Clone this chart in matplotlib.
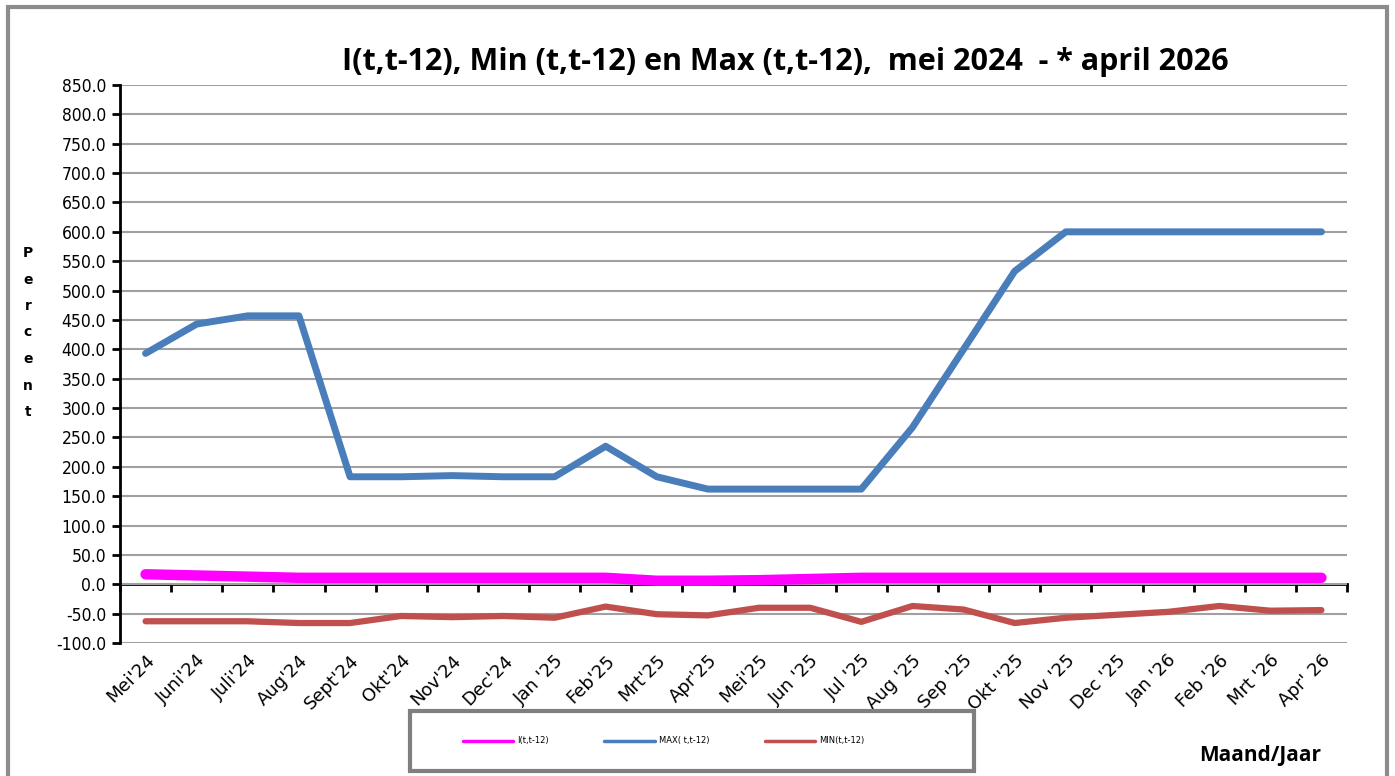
import numpy as np
import matplotlib.pyplot as plt
from matplotlib.patches import Rectangle

maanden = ["Mei'24", "Juni'24", "Juli'24", "Aug'24", "Sept'24", "Okt'24", "Nov'24", "Dec'24",
           "Jan '25", "Feb'25", "Mrt'25", "Apr'25", "Mei'25", "Jun '25", "Jul '25", "Aug '25",
           "Sep '25", "Okt ''25", "Nov '25", "Dec '25", "Jan '26", "Feb '26", "Mrt '26", "Apr' 26"]

i_t12 = [17, 15, 13, 11, 11, 11, 11, 11, 11, 11, 6, 6, 7, 9, 11, 11,
         11, 11, 11, 11, 11, 11, 11, 11]
max_t12 = [393, 443, 457, 457, 183, 183, 185, 183, 183, 235, 183, 162, 162, 162, 162, 267,
           400, 533, 600, 600, 600, 600, 600, 600]
min_t12 = [-63, -63, -63, -66, -66, -54, -56, -54, -57, -38, -51, -53, -40, -40, -64, -37,
           -43, -66, -57, -52, -47, -37, -45, -44]

W, H = 1395, 776
fig = plt.figure(figsize=(W / 100, H / 100), dpi=100)
fig.patches.append(Rectangle((8 / W, -0.01), (1387 - 8) / W, 1 - 7 / H + 0.01,
                             transform=fig.transFigure, fill=False,
                             edgecolor="#8c8c8c", linewidth=3))

ax = fig.add_axes([120 / W, 1 - 643 / H, (1347 - 120) / W, (643 - 85) / H])
x = np.arange(len(maanden))

ax.plot(x, i_t12, color="#ff00ff", lw=7.5, solid_capstyle="round", label="I(t,t-12)", zorder=3)
ax.plot(x, max_t12, color="#4a7ebb", lw=5, solid_capstyle="round", label="MAX( t,t-12)", zorder=3)
ax.plot(x, min_t12, color="#c0504d", lw=4.5, solid_capstyle="round", label="MIN(t,t-12)", zorder=3)

ax.set_xlim(-0.5, len(maanden) - 0.5)
ax.set_ylim(-100, 850)
ax.set_yticks(np.arange(-100, 851, 50))
ax.set_yticklabels([f"{v:.1f}" for v in np.arange(-100, 851, 50)], fontsize=12.5,
                   family="DejaVu Sans", fontstretch="condensed")
ax.yaxis.grid(True, color="#a0a0a0", lw=1.5)
ax.set_axisbelow(True)
for s in ["top", "right", "bottom"]:
    ax.spines[s].set_visible(False)
ax.spines["left"].set_linewidth(2)
ax.tick_params(axis="y", direction="out", length=6, width=2, pad=4)

ax.set_xticks(x)
ax.set_xticklabels(maanden, rotation=45, ha="right", rotation_mode="anchor", fontsize=13)
ax.tick_params(axis="x", length=0, pad=6)

# x-as met streepjes op de nullijn
sec = ax.secondary_xaxis(100 / 950)
sec.set_xticks(np.arange(-0.5, len(maanden), 1.0))
sec.set_xticklabels([])
sec.tick_params(direction="out", length=6, width=2)
sec.spines["bottom"].set_linewidth(2)

fig.text(0.563, 1 - 62 / H, "I(t,t-12), Min (t,t-12) en Max (t,t-12),  mei 2024  - * april 2026",
         ha="center", va="center", fontsize=22, fontweight="bold", family="Open Sans",
         fontstretch="condensed")
fig.text(1260 / W, 1 - 755 / H, "Maand/Jaar", ha="center", va="center", fontsize=15,
         fontweight="bold", family="Open Sans")
for k, ch in enumerate("Percent"):
    fig.text(28 / W, 1 - (253 + k * 26.5) / H, ch, ha="center", va="center", fontsize=10,
             fontweight="bold", family="DejaVu Sans")

fig.patches.append(Rectangle((410 / W, 1 - 771 / H), (974 - 410) / W, 60 / H,
                             transform=fig.transFigure, fill=False,
                             edgecolor="#7f7f7f", linewidth=3))
leg = fig.legend(loc="center left", bbox_to_anchor=(455 / W, 1 - 741 / H),
                 ncol=3, fontsize=6, frameon=False, handlelength=6.1,
                 handletextpad=0.5, columnspacing=6.6)
for h in leg.get_lines():
    h.set_linewidth(2.5)

fig.savefig("out.png", dpi=100)
